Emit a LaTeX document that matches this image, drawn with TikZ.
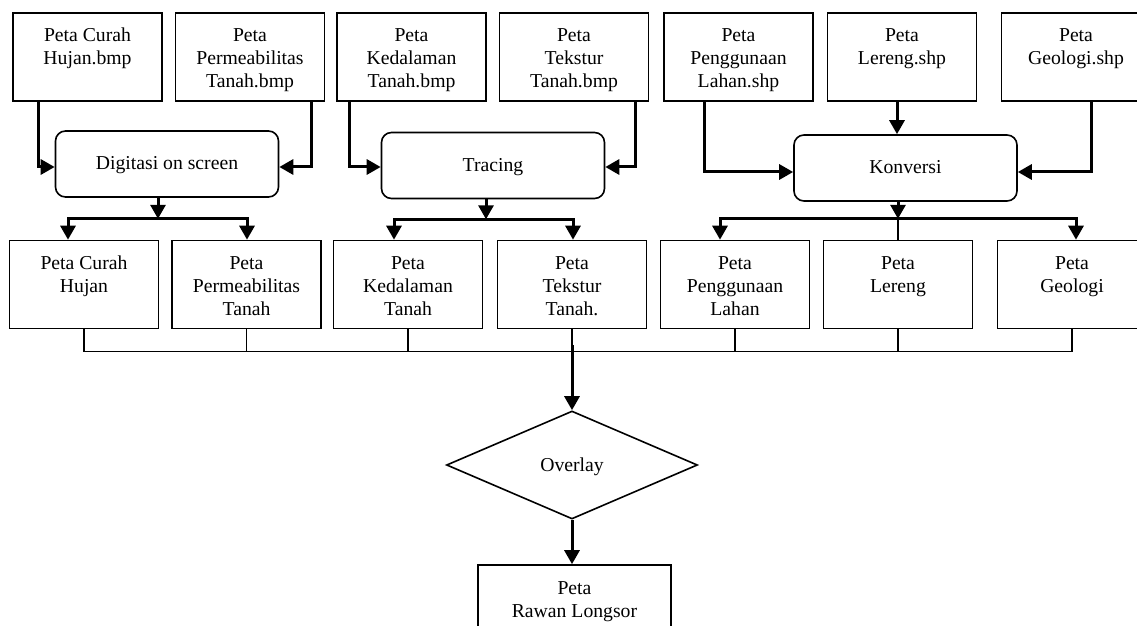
\documentclass[tikz,border=0pt]{standalone}
\usepackage{fontspec}
\setmainfont{Liberation Serif}
\usetikzlibrary{arrows.meta,shapes.geometric,calc}
\newcommand\topS{\rule{0pt}{10pt}}
\newcommand\botS{\rule[-2pt]{0pt}{2pt}}
\begin{document}
\begin{tikzpicture}[x=0.5pt,y=-0.5pt,
  font=\fontsize{9.85pt}{11.5pt}\selectfont,
  mapbox/.style={draw,line width=0.8pt,minimum width=74.5pt,minimum height=44pt,inner sep=0pt,align=center},
  procbox/.style={draw,line width=0.8pt,rounded corners=5pt,minimum width=111.5pt,minimum height=33pt,inner sep=0pt,align=center,text height=7pt,text depth=1pt},
  tipshape/.tip={Triangle[length=7pt,width=7.5pt]},
  arr/.style={line width=1.5pt,-tipshape},
  twoarr/.style={line width=1.5pt,tipshape-tipshape},
  thinline/.style={line width=0.8pt}]
\clip (0,0) rectangle (1137,626);
% source maps
\node[mapbox] (t1) at (87.5,57) {\topS Peta Curah\\Hujan.bmp\\\botS};
\node[mapbox] (t2) at (250,57) {\topS Peta\\Permeabilitas\\Tanah.bmp\botS};
\node[mapbox] (t3) at (411.5,57) {\topS Peta\\Kedalaman\\Tanah.bmp\botS};
\node[mapbox] (t4) at (574,57) {\topS Peta\\Tekstur\\Tanah.bmp\botS};
\node[mapbox] (t5) at (738.5,57) {\topS Peta\\Penggunaan\\Lahan.shp\botS};
\node[mapbox] (t6) at (902,57) {\topS Peta\\Lereng.shp\\\botS};
\node[mapbox] (t7) at (1076,57) {\topS Peta\\Geologi.shp\\\botS};
% processes
\node[procbox] (d1) at (167,164) {Digitasi on screen};
\node[procbox] (d2) at (493,165.5) {Tracing};
\node[procbox] (d3) at (905.5,168) {Konversi};
% result maps
\node[mapbox] (b1) at (84,284.5) {\topS Peta Curah\\Hujan\\\botS};
\node[mapbox] (b2) at (246.5,284.5) {\topS Peta\\Permeabilitas\\Tanah\botS};
\node[mapbox] (b3) at (408,284.5) {\topS Peta\\Kedalaman\\Tanah\botS};
\node[mapbox] (b4) at (572,284.5) {\topS Peta\\Tekstur\\Tanah.\botS};
\node[mapbox] (b5) at (735,284.5) {\topS Peta\\Penggunaan\\Lahan\botS};
\node[mapbox] (b6) at (898,284.5) {\topS Peta\\Lereng\\\botS};
\node[mapbox] (b7) at (1072,284.5) {\topS Peta\\Geologi\\\botS};
% overlay and final
\node[diamond,draw,line width=0.8pt,aspect=2.3,minimum width=125.5pt,minimum height=54pt,inner sep=0pt,text height=7pt,text depth=1pt] (ov) at (572,465) {Overlay};
\node[mapbox,minimum width=96.5pt] (r) at (574.5,609) {\topS Peta\\Rawan Longsor\\\botS};
% inputs to processes
\draw[arr] ($(t1.south west)+(26,0)$) |- ($(d1.west)+(0,3)$);
\draw[arr] ($(t2.south east)+(-14,0)$) |- ($(d1.east)+(0,3)$);
\draw[arr] ($(t3.south west)+(13,0)$) |- ($(d2.west)+(0,1.5)$);
\draw[arr] ($(t4.south east)+(-14,0)$) |- ($(d2.east)+(0,1.5)$);
\draw[arr] ($(t5.south west)+(41,0)$) |- ($(d3.west)+(0,4)$);
\draw[arr] ($(t6.south)+(-5,0)$) -- ($(d3.north)+(-8.5,0)$);
\draw[arr] ($(t7.south west)+(91,0)$) |- ($(d3.east)+(0,4)$);
% processes to outputs
\coordinate (j1) at ($(d1.south)+(-9,21)$);
\coordinate (j2) at ($(d2.south)+(-7,20)$);
\coordinate (j3) at ($(d3.south)+(-7.5,17)$);
\draw[twoarr] ($(b1.north)+(-16,0)$) |- (j1) -| ($(b2.north)+(0.5,0)$);
\draw[twoarr] ($(b3.north)+(-14,0)$) |- (j2) -| ($(b4.north)+(1,0)$);
\draw[twoarr] ($(b5.north)+(-15,0)$) |- (j3) -| ($(b7.north)+(4,0)$);
\draw[thinline] (j3) -- (b6.north);
\draw[arr] ($(d1.south)+(-9,0)$) -- (j1);
\draw[arr] ($(d2.south)+(-7,0)$) -- (j2);
\draw[arr] ($(d3.south)+(-7.5,0)$) -- (j3);
% collecting bar
\draw[thinline] (b1.south) -- ++(0,22) -| (b7.south);
\foreach \b in {b2,b3,b4,b5,b6} \draw[thinline] (\b.south) -- ++(0,22);
\draw[arr] ($(b4.south)+(0,16)$) -- (ov.north);
\draw[arr] (ov.south) -- (ov.south |- r.north);
\end{tikzpicture}
\end{document}
